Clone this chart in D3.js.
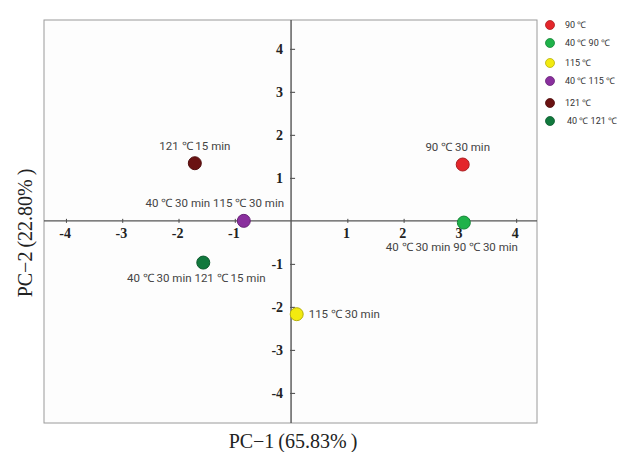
<!DOCTYPE html>
<html>
<head>
    <script src="https://d3js.org/d3.v7.min.js"></script>
    <style>
        body { margin: 0; background: #ffffff; }
    </style>
</head>
<body>
    <script>
        // samples and their PCA scores
        var groups = ["90 ℃", "40 ℃ 90 ℃", "115 ℃", "40 ℃ 115 ℃", "121 ℃", "40 ℃ 121 ℃"];
        var pointLabels = ["90 ℃ 30 min", "40 ℃ 30 min 90 ℃ 30 min", "115 ℃ 30 min",
            "40 ℃ 30 min 115 ℃ 30 min", "121 ℃ 15 min", "40 ℃ 30 min 121 ℃ 15 min"];
        var pc1 = [3.05, 3.07, 0.10, -0.84, -1.71, -1.56];
        var pc2 = [1.31, -0.04, -2.17, 0.0, 1.34, -0.97];
        var colors = ["#e4262b", "#1fb24a", "#f2ea10", "#8a2f9e", "#6a1212", "#11793d"];
        var xTicks = [-4, -3, -2, -1, 1, 2, 3, 4];
        var yTicks = [4, 3, 2, 1, -1, -2, -3, -4];

        var W = 636, H = 452;
        var box = { left: 44, top: 20, right: 537, bottom: 423 };

        var svg = d3.select("body").append("svg")
            .attr("width", W)
            .attr("height", H);

        var x = d3.scaleLinear().domain([-4.39, 4.37]).range([box.left, box.right]);
        var y = d3.scaleLinear().domain([-4.70, 4.67]).range([box.bottom, box.top]);

        // hyphen instead of unicode minus, like the original
        var fmt = function (d) { return String(d); };

        // plot frame
        svg.append("rect")
            .attr("x", box.left).attr("y", box.top)
            .attr("width", box.right - box.left).attr("height", box.bottom - box.top)
            .attr("fill", "#fdfdfd")
            .attr("stroke", "#9a9a9a")
            .attr("stroke-width", 1);

        // x axis through origin
        var xAxis = d3.axisBottom(x).tickValues(xTicks).tickSize(3).tickFormat(fmt);
        var gx = svg.append("g")
            .attr("transform", "translate(0," + y(0) + ")")
            .call(xAxis);
        gx.select(".domain").remove();
        gx.append("line")
            .attr("x1", box.left).attr("x2", box.right)
            .attr("stroke", "#555").attr("stroke-width", 1.4);
        gx.selectAll(".tick line").attr("y1", -2).attr("y2", 2).attr("stroke", "#444");
        gx.selectAll(".tick text")
            .attr("y", 7)
            .attr("dx", "-0.1em")
            .style("font-family", "Liberation Serif, serif")
            .style("font-weight", "bold")
            .style("font-size", "14px")
            .attr("fill", "#222");

        // y axis through origin
        var yAxis = d3.axisLeft(y).tickValues(yTicks).tickSize(3).tickFormat(fmt);
        var gy = svg.append("g")
            .attr("transform", "translate(" + x(0) + ",0)")
            .call(yAxis);
        gy.select(".domain").remove();
        gy.append("line")
            .attr("y1", box.top).attr("y2", box.bottom)
            .attr("stroke", "#555").attr("stroke-width", 1.4);
        gy.selectAll(".tick line").attr("x1", -1).attr("x2", 4).attr("stroke", "#444");
        gy.selectAll(".tick text")
            .attr("x", -8)
            .style("font-family", "Liberation Serif, serif")
            .style("font-weight", "bold")
            .style("font-size", "14px")
            .attr("fill", "#222");

        // points
        var data = groups.map(function (g, i) {
            return { group: g, label: pointLabels[i], x: pc1[i], y: pc2[i], color: colors[i] };
        });

        svg.selectAll("circle.pt")
            .data(data)
            .enter().append("circle")
            .attr("class", "pt")
            .attr("cx", function (d) { return x(d.x); })
            .attr("cy", function (d) { return y(d.y); })
            .attr("r", 6.5)
            .attr("fill", function (d) { return d.color; })
            .attr("stroke", function (d) { return d3.color(d.color).darker(0.8); })
            .attr("stroke-width", 1);

        // point labels: offsets relative to the point
        var offs = [[-5, -14, "middle"], [-12, 28, "middle"], [12, 4, "start"],
            [-29, -14, "middle"], [0, -13, "middle"], [-7, 19, "middle"]];
        svg.selectAll("text.lbl")
            .data(data)
            .enter().append("text")
            .attr("class", "lbl")
            .attr("x", function (d, i) { return x(d.x) + offs[i][0]; })
            .attr("y", function (d, i) { return y(d.y) + offs[i][1]; })
            .attr("text-anchor", function (d, i) { return offs[i][2]; })
            .style("font-family", "Roboto, sans-serif")
            .style("font-size", "11.5px")
            .attr("fill", "#444")
            .text(function (d) { return d.label; });

        // legend
        var legY = [25, 43, 63, 81, 103, 121];
        var leg = svg.selectAll("g.leg")
            .data(data)
            .enter().append("g")
            .attr("class", "leg")
            .attr("transform", function (d, i) { return "translate(550," + legY[i] + ")"; });
        leg.append("circle")
            .attr("r", 4.5)
            .attr("fill", function (d) { return d.color; })
            .attr("stroke", function (d) { return d3.color(d.color).darker(0.8); })
            .attr("stroke-width", 0.8);
        leg.append("text")
            .attr("x", function (d, i) { return i == 5 ? 17 : 15; })
            .attr("dy", "0.35em")
            .style("font-family", "Roboto, sans-serif")
            .style("font-size", "9px")
            .attr("fill", "#333")
            .text(function (d) { return d.group; });

        // axis titles
        svg.append("text")
            .attr("x", 293)
            .attr("y", 448)
            .attr("text-anchor", "middle")
            .style("font-family", "Liberation Serif, serif")
            .style("font-size", "20px")
            .attr("fill", "#222")
            .text("PC−1\u2009(65.83%\u2009)");

        svg.append("text")
            .attr("transform", "translate(32,233) rotate(-90)")
            .attr("text-anchor", "middle")
            .style("font-family", "Liberation Serif, serif")
            .style("font-size", "20px")
            .attr("fill", "#222")
            .text("PC−2\u2009(22.80%\u2009)");
    </script>
</body>
</html>
